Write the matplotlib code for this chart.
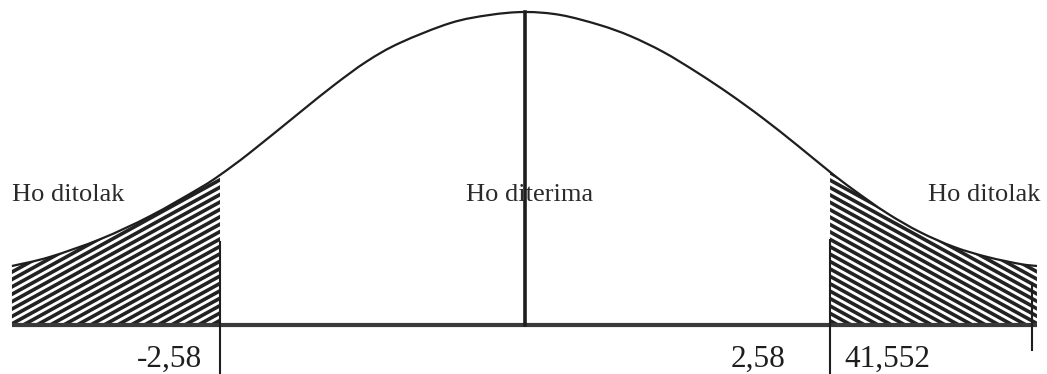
import numpy as np
import matplotlib
matplotlib.use("Agg")
import matplotlib.pyplot as plt
from matplotlib.path import Path
from matplotlib.patches import PathPatch
from matplotlib.collections import LineCollection

# ---- data ----
curve_z = [-4.34, -4.02, -3.59, -3.17, -2.75, -2.58, -2.33, -1.90, -1.62, -1.34,
           -1.06, -0.63, -0.30, 0.00, 0.30, 0.63, 0.89, 1.17, 1.45, 1.73,
           2.01, 2.30, 2.58, 2.78, 3.06, 3.34, 3.63, 3.91, 4.19, 4.33]
curve_density = [0.0752, 0.0867, 0.1096, 0.1389, 0.1746, 0.1912, 0.2192, 0.2715, 0.3052, 0.3358,
                 0.3594, 0.3849, 0.3951, 0.3989, 0.3951, 0.3824, 0.3683, 0.3479, 0.3224, 0.2944,
                 0.2638, 0.2294, 0.1950, 0.1721, 0.1427, 0.1185, 0.0994, 0.0867, 0.0777, 0.0752]
critical_values = [-2.58, 2.58]
critical_labels = ["-2,58", "2,58"]
statistic_value = 4.29
statistic_label = "41,552"
region_labels = ["Ho ditolak", "Ho diterima", "Ho ditolak"]

FONT = "Liberation Serif"
INK = "#1e1e1e"

fig = plt.figure(figsize=(10.47, 3.74), dpi=100)
ax = fig.add_axes([0, 0, 1, 1])
ax.set_xlim(-4.441, 4.415)
ax.set_ylim(-0.06245, 0.4142)
ax.axis("off")

P = np.column_stack([curve_z, curve_density])
n = len(P)

# smooth (Catmull-Rom as cubic Bezier) segments through the read points
def segment(i):
    p0 = P[max(i - 1, 0)]
    p1 = P[i]
    p2 = P[i + 1]
    p3 = P[min(i + 2, n - 1)]
    c1 = p1 + (p2 - p0) / 6.0
    c2 = p2 - (p3 - p1) / 6.0
    return c1, c2, p2

def curve_path(i0, i1, close=False):
    verts = [tuple(P[i0])]
    codes = [Path.MOVETO]
    for i in range(i0, i1):
        c1, c2, p2 = segment(i)
        verts += [tuple(c1), tuple(c2), tuple(p2)]
        codes += [Path.CURVE4] * 3
    if close:
        verts += [(P[i1][0], 0.0), (P[i0][0], 0.0), (P[i0][0], 0.0)]
        codes += [Path.LINETO, Path.LINETO, Path.CLOSEPOLY]
    return Path(verts, codes)

iL = curve_z.index(critical_values[0])
iR = curve_z.index(critical_values[1])

# hatched tails
for (i0, i1), slope in (((0, iL), 0.55), ((iR, n - 1), -0.55)):
    patch = PathPatch(curve_path(i0, i1, close=True), facecolor="none", edgecolor="none")
    ax.add_patch(patch)
    xs = np.array([0.0, 10.47])
    segs = [list(zip(xs, slope * xs + c)) for c in np.arange(-8, 10, 0.074)]
    lc = LineCollection(segs, colors="#222222", linewidths=2.6,
                        transform=fig.dpi_scale_trans)
    lc.set_clip_path(patch)
    ax.add_collection(lc, autolim=False)

# curve
ax.add_patch(PathPatch(curve_path(0, n - 1), facecolor="none", edgecolor=INK,
                       lw=1.6, zorder=4))

# baseline
ax.plot([curve_z[0], curve_z[-1]], [0, 0], color="#3a3a3a", lw=3, zorder=4,
        solid_capstyle="butt")

# region labels
ax.text(-4.34, 0.158, region_labels[0], family=FONT, fontsize=19, color="#2a2a2a",
        ha="left", va="baseline", zorder=2)
ax.text(0.04, 0.158, region_labels[1], family=FONT, fontsize=19, color="#2a2a2a",
        ha="center", va="baseline", zorder=2)
ax.text(4.36, 0.158, region_labels[2], family=FONT, fontsize=19, color="#2a2a2a",
        ha="right", va="baseline", zorder=2)

# center line
ax.plot([0, 0], [0, max(curve_density)], color=INK, lw=2.6, zorder=5)

# critical value markers
ax.plot([critical_values[0]] * 2, [0.1058, -0.0624], color=INK, lw=1.5, zorder=5)
ax.plot([critical_values[1]] * 2, [0.1083, -0.0624], color=INK, lw=1.5, zorder=5)
ax.plot([statistic_value] * 2, [0.0535, -0.0319], color=INK, lw=1.5, zorder=5)

ax.text(critical_values[0] - 0.15, -0.0535, critical_labels[0], family=FONT,
        fontsize=22.5, color=INK, ha="right", va="baseline")
ax.text(critical_values[1] - 0.38, -0.0535, critical_labels[1], family=FONT,
        fontsize=22.5, color=INK, ha="right", va="baseline")
ax.text(critical_values[1] + 0.12, -0.0535, statistic_label, family=FONT,
        fontsize=22.5, color=INK, ha="left", va="baseline")

fig.savefig("out.png", dpi=100, facecolor="white")
